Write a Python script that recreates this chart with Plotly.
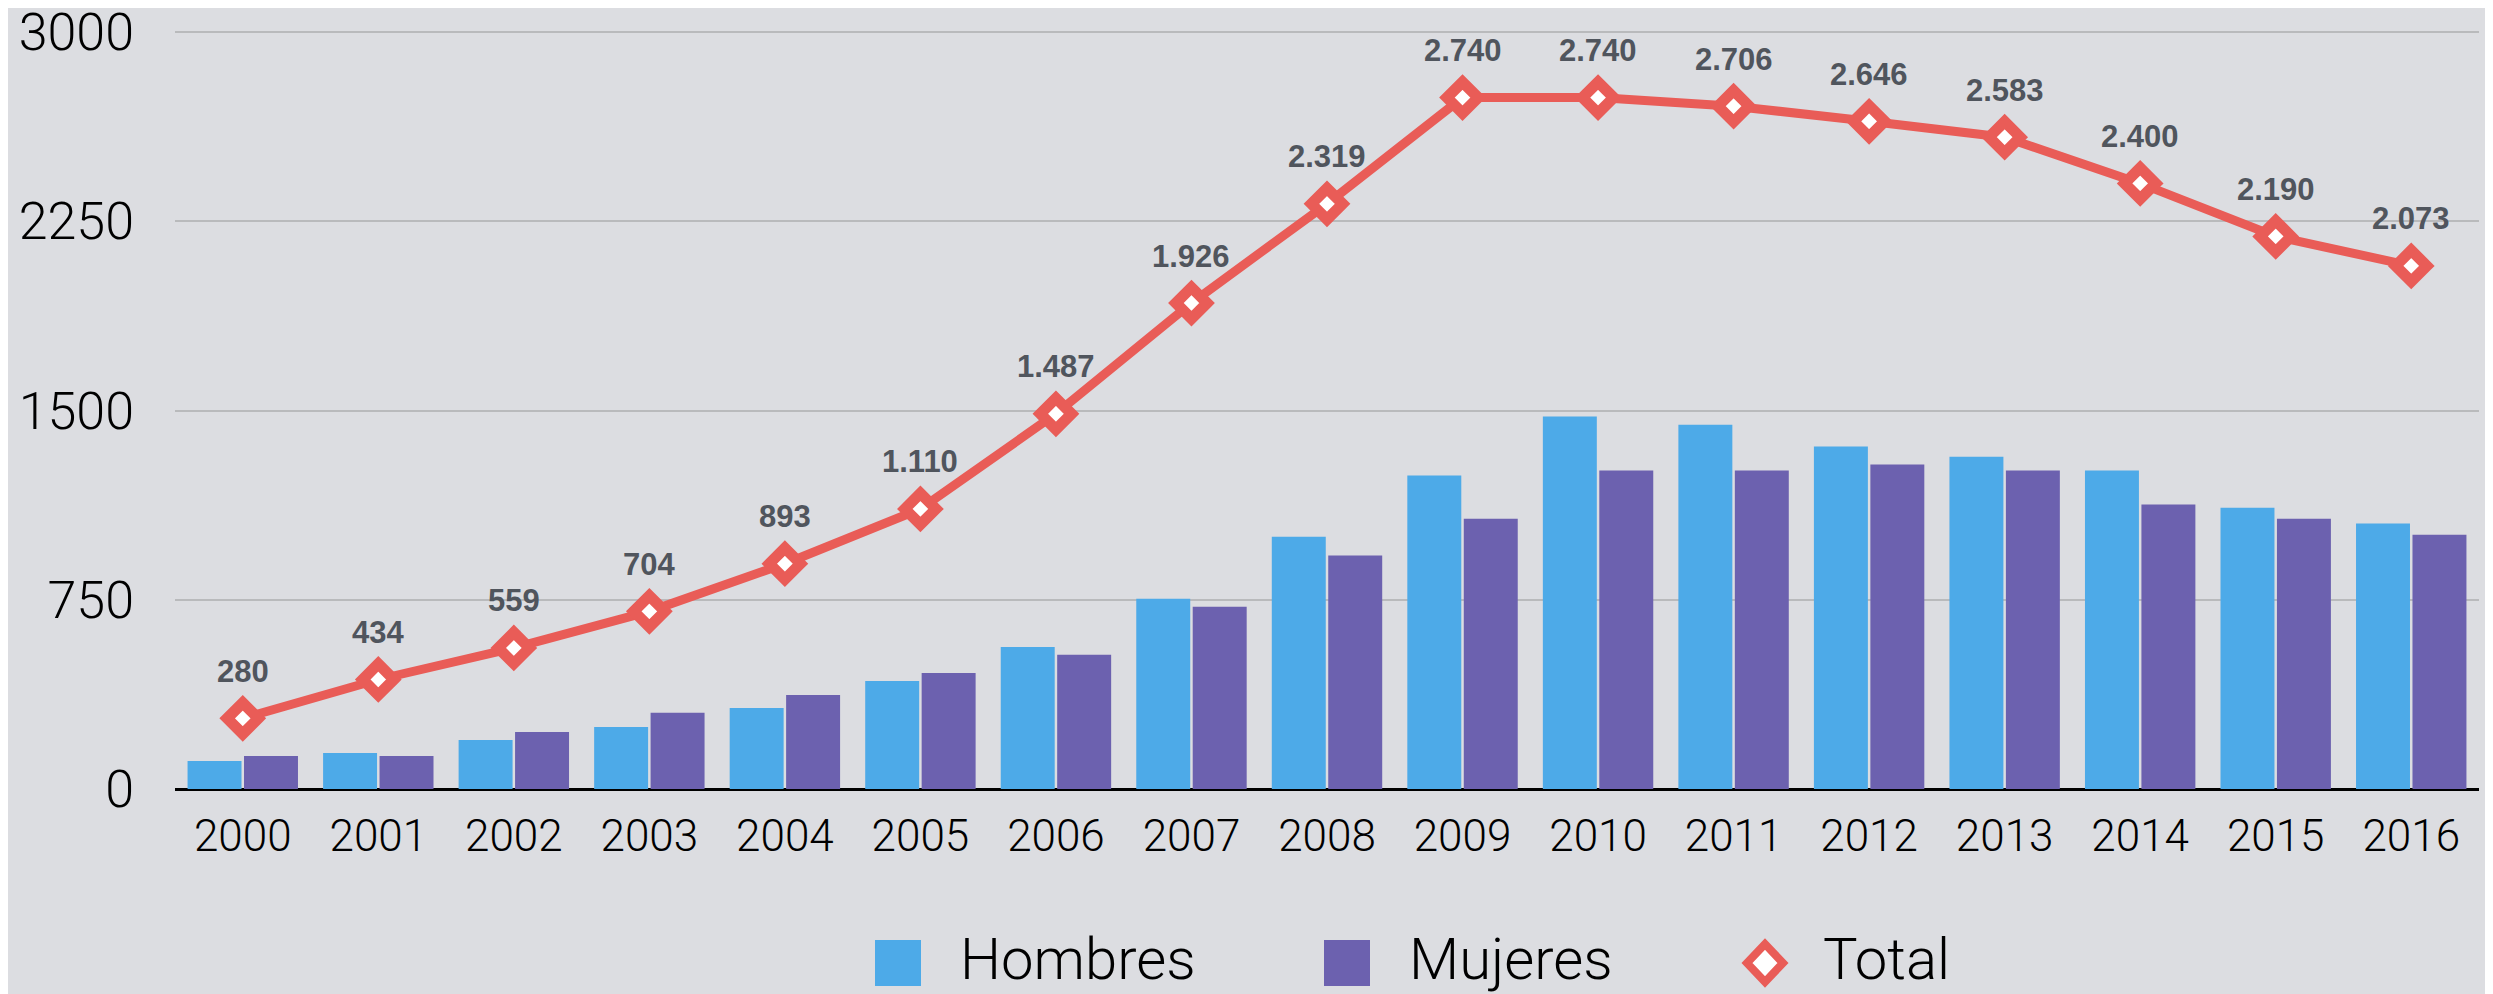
import plotly.graph_objects as go

years = ["2000", "2001", "2002", "2003", "2004", "2005", "2006", "2007", "2008",
         "2009", "2010", "2011", "2012", "2013", "2014", "2015", "2016"]
hombres = [111, 143, 194, 246, 321, 428, 563, 754, 1000, 1242, 1476, 1444, 1357, 1317, 1262, 1115, 1052]
mujeres = [131, 131, 226, 302, 373, 460, 532, 722, 925, 1071, 1262, 1262, 1286, 1262, 1127, 1071, 1008]
total = [280, 434, 559, 704, 893, 1110, 1487, 1926, 2319, 2740, 2740, 2706, 2646, 2583, 2400, 2190, 2073]
y_ticks = [0, 750, 1500, 2250, 3000]

C_H = "#4DAAE8"
C_M = "#6C61AF"
C_T = "#E95C57"
BG = "#DCDDE1"

OFF = 8  # page body margin
W, H = 2493 - OFF, 994 - OFF
Y0_PAGE, Y3000_PAGE = 789, 32          # page pixel rows of 0 and 3000
SCALE = (Y0_PAGE - Y3000_PAGE) / 3000   # px per unit
MT = 2
Y_TOP = 3000 + (Y3000_PAGE - OFF - MT) / SCALE
ML, MR, MB = 175 - OFF, 14, H - (Y0_PAGE - OFF)
PW, PH = W - ML - MR, H - MT - MB


def px_x(x):  # x in page pixels
    return (x - OFF - ML) / PW


def px_y(y):  # y in page pixels
    return (H - MB - (y - OFF)) / PH


fig = go.Figure()
fig.add_trace(go.Bar(x=years, y=hombres, name="Hombres", marker=dict(color=C_H, line=dict(width=0))))
fig.add_trace(go.Bar(x=years, y=mujeres, name="Mujeres", marker=dict(color=C_M, line=dict(width=0))))
fig.add_trace(go.Scatter(
    x=years, y=total, name="Total", mode="lines+markers",
    line=dict(color=C_T, width=9),
    marker=dict(symbol="diamond", size=24, color="white", line=dict(color=C_T, width=11)),
    cliponaxis=False,
))

annotations = []
for i, v in enumerate(total):
    annotations.append(dict(
        x=i, y=v, xref="x", yref="y", text=f"{v:,}".replace(",", "."),
        showarrow=False, yshift=47,
        font=dict(family="Liberation Sans, Arial, sans-serif", size=31, color="#50555D", weight="bold"),
    ))

# custom legend
leg_font = dict(family="Roboto, Liberation Sans, sans-serif", size=58, color="black", weight=300)
shapes = []
ly0, ly1 = 940, 986
lyc = (ly0 + ly1) / 2
for x0, col in [(875, C_H), (1324, C_M)]:
    shapes.append(dict(type="rect", xref="paper", yref="paper",
                       x0=px_x(x0), x1=px_x(x0 + 46), y0=px_y(ly1), y1=px_y(ly0),
                       fillcolor=col, line=dict(width=0)))
dxc, dw, dh = 1765, 18, 19
path = (f"M {px_x(dxc - dw)},{px_y(lyc)} L {px_x(dxc)},{px_y(lyc - dh)} "
        f"L {px_x(dxc + dw)},{px_y(lyc)} L {px_x(dxc)},{px_y(lyc + dh)} Z")
shapes.append(dict(type="path", xref="paper", yref="paper", path=path,
                   fillcolor="white", line=dict(color=C_T, width=8)))
for xt, label in [(958, "Hombres"), (1407, "Mujeres"), (1821, "Total")]:
    annotations.append(dict(x=px_x(xt), y=px_y(lyc - 4), xref="paper", yref="paper",
                            text=label, showarrow=False, xanchor="left", yanchor="middle",
                            font=leg_font))

fig.update_layout(
    width=W, height=H,
    margin=dict(l=ML, r=MR, t=MT, b=MB, pad=0, autoexpand=False),
    paper_bgcolor=BG, plot_bgcolor=BG,
    barmode="group", bargap=0.167, bargroupgap=0.044,
    showlegend=False,
    annotations=annotations,
    shapes=shapes,
    xaxis=dict(
        type="category", range=[-0.5, len(years) - 0.5], automargin=False,
        showgrid=False, zeroline=False, showline=False,
        ticks="", ticklabelstandoff=17,
        tickfont=dict(family="Roboto, Liberation Sans, sans-serif", size=44, color="black", weight=300),
    ),
    yaxis=dict(
        range=[0, Y_TOP], tickvals=y_ticks, ticktext=[str(v) for v in y_ticks], automargin=False,
        showgrid=True, gridcolor="#B9BABC", gridwidth=2,
        zeroline=True, zerolinecolor="black", zerolinewidth=3,
        showline=False, ticks="", ticklabelstandoff=40, ticklabeloverflow="allow",
        tickfont=dict(family="Roboto, Liberation Sans, sans-serif", size=52, color="black", weight=300),
    ),
)

fig.write_html("out.html")
